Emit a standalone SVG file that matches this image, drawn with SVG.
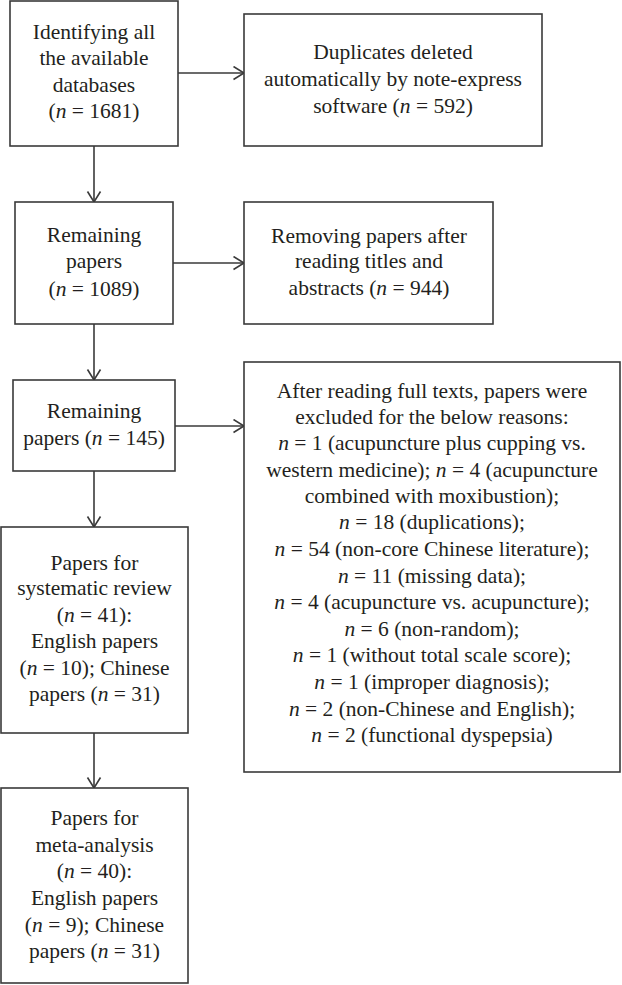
<svg xmlns="http://www.w3.org/2000/svg" width="622" height="985" viewBox="0 0 622 985">
<defs>
<style>
.box{fill:#ffffff;stroke:#3a3a3a;stroke-width:1.6}
.t{font-family:"Liberation Serif","Times New Roman",serif;font-size:21.5px;fill:#231f20;text-anchor:middle}
.i{font-style:italic}
.c{stroke:#3a3a3a;stroke-width:1.6;fill:none}
</style>
<marker id="ah" markerWidth="14" markerHeight="16" refX="12" refY="7.5" orient="auto" markerUnits="userSpaceOnUse">
<path d="M1.5,1 L12,7.5 L1.5,14" fill="none" stroke="#3a3a3a" stroke-width="1.6"/>
</marker>
</defs>
<rect width="622" height="985" fill="#ffffff"/>
<g id="connectors">
<line class="c" x1="178" y1="73" x2="244" y2="73" marker-end="url(#ah)"/>
<line class="c" x1="94" y1="146" x2="94" y2="202" marker-end="url(#ah)"/>
<line class="c" x1="173" y1="263" x2="244" y2="263" marker-end="url(#ah)"/>
<line class="c" x1="94" y1="324" x2="94" y2="380" marker-end="url(#ah)"/>
<line class="c" x1="175" y1="426" x2="244" y2="426" marker-end="url(#ah)"/>
<line class="c" x1="94" y1="471" x2="94" y2="527" marker-end="url(#ah)"/>
<line class="c" x1="94" y1="733" x2="94" y2="788" marker-end="url(#ah)"/>
</g>
<g id="n1">
<rect class="box" x="10" y="1" width="168" height="145"/>
<text class="t" x="94" y="39">Identifying all</text>
<text class="t" x="94" y="65">the available</text>
<text class="t" x="94" y="92">databases</text>
<text class="t" x="94" y="118">(<tspan class="i">n</tspan> = 1681)</text>
</g>
<g id="n2">
<rect class="box" x="244" y="14" width="298" height="132"/>
<text class="t" x="393" y="59">Duplicates deleted</text>
<text class="t" x="393" y="86">automatically by note-express</text>
<text class="t" x="393" y="113">software (<tspan class="i">n</tspan> = 592)</text>
</g>
<g id="n3">
<rect class="box" x="15" y="202" width="158" height="122"/>
<text class="t" x="94" y="242">Remaining</text>
<text class="t" x="94" y="268">papers</text>
<text class="t" x="94" y="296">(<tspan class="i">n</tspan> = 1089)</text>
</g>
<g id="n4">
<rect class="box" x="244" y="202" width="249" height="122"/>
<text class="t" x="369" y="243">Removing papers after</text>
<text class="t" x="369" y="268">reading titles and</text>
<text class="t" x="369" y="295">abstracts (<tspan class="i">n</tspan> = 944)</text>
</g>
<g id="n5">
<rect class="box" x="13" y="380" width="162" height="91"/>
<text class="t" x="94" y="418">Remaining</text>
<text class="t" x="94" y="445">papers (<tspan class="i">n</tspan> = 145)</text>
</g>
<g id="n7">
<rect class="box" x="244" y="362" width="376" height="410"/>
<text class="t" x="432" y="398">After reading full texts, papers were</text>
<text class="t" x="432" y="424">excluded for the below reasons:</text>
<text class="t" x="432" y="450"><tspan class="i">n</tspan> = 1 (acupuncture plus cupping vs.</text>
<text class="t" x="432" y="477">western medicine); <tspan class="i">n</tspan> = 4 (acupuncture</text>
<text class="t" x="432" y="503">combined with moxibustion);</text>
<text class="t" x="432" y="529"><tspan class="i">n</tspan> = 18 (duplications);</text>
<text class="t" x="432" y="556"><tspan class="i">n</tspan> = 54 (non-core Chinese literature);</text>
<text class="t" x="432" y="583"><tspan class="i">n</tspan> = 11 (missing data);</text>
<text class="t" x="432" y="609"><tspan class="i">n</tspan> = 4 (acupuncture vs. acupuncture);</text>
<text class="t" x="432" y="636"><tspan class="i">n</tspan> = 6 (non-random);</text>
<text class="t" x="432" y="662"><tspan class="i">n</tspan> = 1 (without total scale score);</text>
<text class="t" x="432" y="689"><tspan class="i">n</tspan> = 1 (improper diagnosis);</text>
<text class="t" x="432" y="716"><tspan class="i">n</tspan> = 2 (non-Chinese and English);</text>
<text class="t" x="432" y="742"><tspan class="i">n</tspan> = 2 (functional dyspepsia)</text>
</g>
<g id="n6">
<rect class="box" x="1" y="527" width="187" height="206"/>
<text class="t" x="94.5" y="570">Papers for</text>
<text class="t" x="94.5" y="595">systematic review</text>
<text class="t" x="94.5" y="622">(<tspan class="i">n</tspan> = 41):</text>
<text class="t" x="94.5" y="648">English papers</text>
<text class="t" x="94.5" y="675">(<tspan class="i">n</tspan> = 10); Chinese</text>
<text class="t" x="94.5" y="701">papers (<tspan class="i">n</tspan> = 31)</text>
</g>
<g id="n8">
<rect class="box" x="1" y="788" width="187" height="195"/>
<text class="t" x="94.5" y="825">Papers for</text>
<text class="t" x="94.5" y="852">meta-analysis</text>
<text class="t" x="94.5" y="878">(<tspan class="i">n</tspan> = 40):</text>
<text class="t" x="94.5" y="905">English papers</text>
<text class="t" x="94.5" y="932">(<tspan class="i">n</tspan> = 9); Chinese</text>
<text class="t" x="94.5" y="958">papers (<tspan class="i">n</tspan> = 31)</text>
</g>
</svg>
